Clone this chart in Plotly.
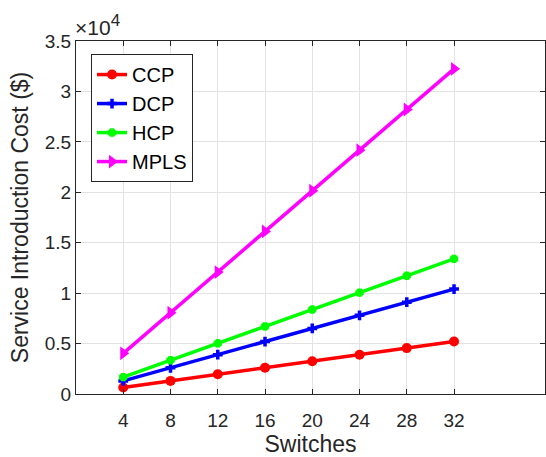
import plotly.graph_objects as go

switches = [4, 8, 12, 16, 20, 24, 28, 32]
ccp = [650, 1300, 1950, 2600, 3250, 3900, 4550, 5200]
dcp = [1300, 2600, 3900, 5200, 6500, 7800, 9100, 10400]
hcp = [1675, 3350, 5025, 6700, 8375, 10050, 11725, 13400]
mpls = [4030, 8060, 12090, 16120, 20150, 24180, 28210, 32240]

y_ticks = [0, 5000, 10000, 15000, 20000, 25000, 30000, 35000]
y_ticktext = ["0", "0.5", "1", "1.5", "2", "2.5", "3", "3.5"]

FONT = "Liberation Sans, Arial, Helvetica, sans-serif"

fig = go.Figure()
fig.add_trace(go.Scatter(x=switches, y=ccp, name="CCP", mode="lines+markers",
                         line=dict(color="#ff0000", width=3.5),
                         marker=dict(symbol="circle", size=10, color="#ff0000")))
fig.add_trace(go.Scatter(x=switches, y=dcp, name="DCP", mode="lines+markers",
                         line=dict(color="#0000ff", width=3.5),
                         marker=dict(symbol="cross-thin-open", size=7, color="#0000ff",
                                     line=dict(color="#0000ff", width=3.5))))
fig.add_trace(go.Scatter(x=switches, y=hcp, name="HCP", mode="lines+markers",
                         line=dict(color="#00ff00", width=3.5),
                         marker=dict(symbol="asterisk-open", size=7, color="#00ff00",
                                     line=dict(color="#00ff00", width=4))))
fig.add_trace(go.Scatter(x=switches, y=mpls, name="MPLS", mode="lines+markers",
                         line=dict(color="#ff00ff", width=3.5),
                         marker=dict(symbol="triangle-right", size=12, color="#ff00ff")))

axis_common = dict(showline=True, linecolor="#262626", linewidth=1, mirror="ticks",
                   ticks="inside", ticklen=5, tickcolor="#262626",
                   showgrid=True, gridcolor="#e3e3e3", gridwidth=1, zeroline=False,
                   tickfont=dict(family=FONT, size=19, color="#262626"))

fig.update_xaxes(range=[0, 39.7], tickvals=switches, ticklabelstandoff=9,
                 title=dict(text="Switches", font=dict(family=FONT, size=23, color="#262626"), standoff=8),
                 **axis_common)
fig.update_yaxes(range=[0, 35000], tickvals=y_ticks, ticktext=y_ticktext,
                 title=dict(text="Service Introduction Cost ($)", font=dict(family=FONT, size=23, color="#262626"), standoff=9),
                 **axis_common)

fig.add_annotation(text="×10<sup><span style='font-size:17px'>4</span></sup>",
                   xref="paper", yref="paper", x=0, y=1,
                   xanchor="left", yanchor="bottom", showarrow=False, yshift=0, xshift=-3,
                   font=dict(family=FONT, size=21, color="#262626"))

fig.update_layout(
    width=546, height=457,
    margin=dict(l=76, r=1, t=41, b=63),
    paper_bgcolor="white", plot_bgcolor="white",
    showlegend=True,
    legend=dict(x=0.032, y=0.963, xanchor="left", yanchor="top",
                bgcolor="white", bordercolor="#262626", borderwidth=1,
                font=dict(family=FONT, size=20, color="black"),
                itemwidth=30, tracegroupgap=0),
)

fig.write_html("out.html")
